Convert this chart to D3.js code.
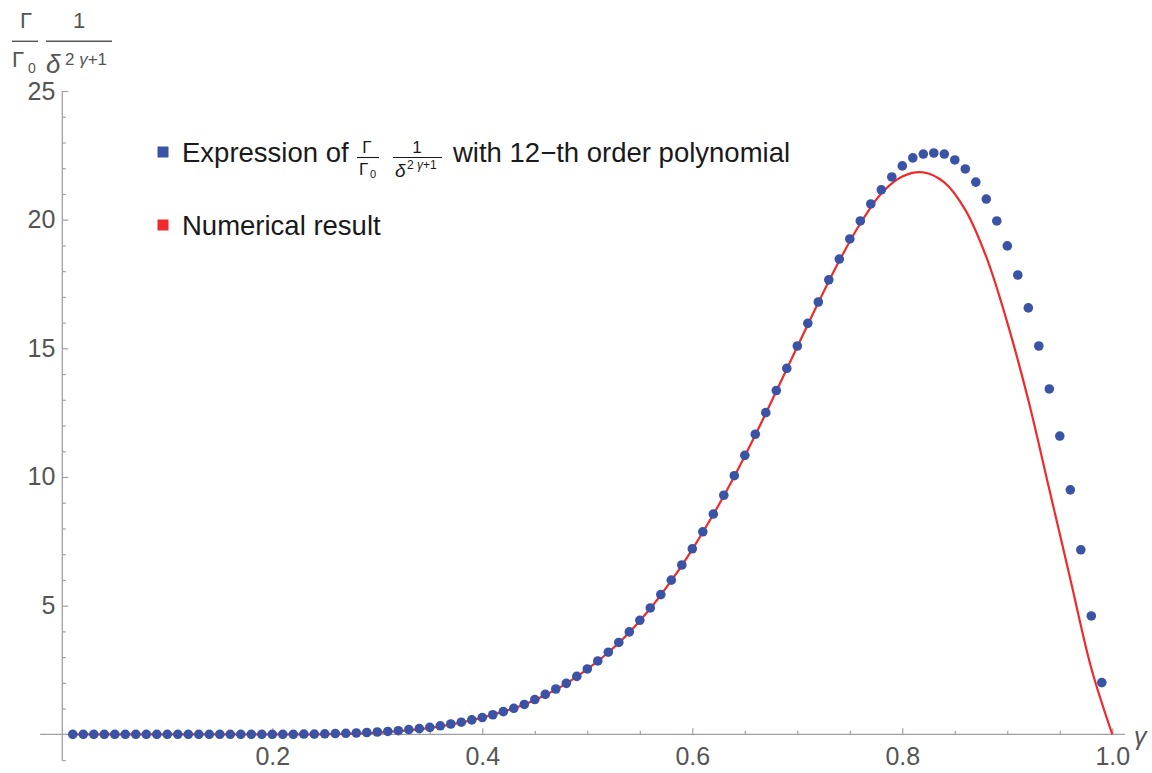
<!DOCTYPE html>
<html><head><meta charset="utf-8">
<script src="https://cdn.jsdelivr.net/npm/d3@7"></script>
<style>body{margin:0;background:#fff} svg{display:block} text{font-family:"Liberation Sans",Arial,sans-serif}</style>
</head><body><svg id="c" width="1152" height="773"></svg>
<script>
// ---- data ----
const gammaSamples = [0.01,0.02,0.03,0.04,0.05,0.06,0.07,0.08,0.09,0.10,
  0.11,0.12,0.13,0.14,0.15,0.16,0.17,0.18,0.19,0.20,
  0.21,0.22,0.23,0.24,0.25,0.26,0.27,0.28,0.29,0.30,
  0.31,0.32,0.33,0.34,0.35,0.36,0.37,0.38,0.39,0.40,
  0.41,0.42,0.43,0.44,0.45,0.46,0.47,0.48,0.49,0.50,
  0.51,0.52,0.53,0.54,0.55,0.56,0.57,0.58,0.59,0.60,
  0.61,0.62,0.63,0.64,0.65,0.66,0.67,0.68,0.69,0.70,
  0.71,0.72,0.73,0.74,0.75,0.76,0.77,0.78,0.79,0.80,
  0.81,0.82,0.83,0.84,0.85,0.86,0.87,0.88,0.89,0.90,
  0.91,0.92,0.93,0.94,0.95,0.96,0.97,0.98,0.99];
const polynomialValues = [0,0,0,0,0,0,0,0,0,0,
  0,0,0,0,0,0,0,0,0,0,
  0.00,0.00,0.01,0.01,0.02,0.03,0.04,0.05,0.07,0.09,
  0.11,0.14,0.18,0.22,0.27,0.33,0.40,0.47,0.56,0.65,
  0.76,0.88,1.01,1.16,1.35,1.55,1.76,1.98,2.25,2.54,
  2.85,3.19,3.57,3.98,4.43,4.91,5.43,5.99,6.58,7.21,
  7.87,8.56,9.29,10.05,10.84,11.66,12.50,13.36,14.22,15.09,
  15.97,16.80,17.66,18.47,19.25,19.95,20.61,21.16,21.66,22.09,
  22.40,22.55,22.59,22.55,22.32,21.97,21.46,20.80,19.95,18.98,
  17.85,16.57,15.09,13.42,11.59,9.50,7.17,4.60,2.01];
const numericalGamma = [0.01,0.05,0.10,0.15,0.20,0.24,0.26,0.28,0.30,
  0.32,0.34,0.36,0.38,0.40,0.42,0.44,0.46,0.48,0.50,
  0.52,0.54,0.56,0.58,0.60,0.62,0.64,0.66,0.68,0.70,
  0.72,0.74,0.76,0.78,0.80,0.82,0.84,0.86,0.88,0.90,
  0.92,0.94,0.96,0.98,1.00];
const numericalValues = [0,0,0,0,0,0.00,0.01,0.03,0.06,
  0.12,0.20,0.31,0.46,0.65,0.88,1.16,1.53,1.97,2.53,
  3.18,3.96,4.89,5.97,7.19,8.54,10.02,11.63,13.33,15.06,
  16.77,18.40,19.85,21.02,21.68,21.84,21.45,20.38,18.55,16.00,
  12.99,9.52,6.04,2.57,0.00];
const xMajorTicks = [0.2,0.4,0.6,0.8,1.0];
const xTickLabels = ["0.2","0.4","0.6","0.8","1.0"];
const yMajorTicks = [5,10,15,20,25];
const yTickLabels = ["5","10","15","20","25"];
const seriesColors = ["#3a53a4","#ee2a2a"];

// ---- scales ----
const svg = d3.select("#c");
const x = d3.scaleLinear().domain([0,1]).range([62.3,1112.3]);
const y = d3.scaleLinear().domain([0,25]).range([734.3,91]);
const axisGray = "#a0a0a0", labelGray = "#555";

// axis lines (crossing at origin)
svg.append("line").attr("x1",x(-0.021)).attr("x2",x(1.012)).attr("y1",y(0)).attr("y2",y(0))
  .attr("stroke",axisGray).attr("stroke-width",1.3);
svg.append("line").attr("x1",x(0)).attr("x2",x(0)).attr("y1",y(25)).attr("y2",y(-1.03))
  .attr("stroke",axisGray).attr("stroke-width",1.3);

// x ticks
const xMinor = d3.range(1,21).map(i=>i*0.05).filter(v=>!xMajorTicks.some(m=>Math.abs(m-v)<1e-6));
const gxMinor = svg.append("g").attr("transform",`translate(0,${y(0)})`)
  .call(d3.axisBottom(x).tickValues(xMinor).tickSizeInner(-3.5).tickSizeOuter(0).tickFormat(""));
const gx = svg.append("g").attr("transform",`translate(0,${y(0)})`)
  .call(d3.axisBottom(x).tickValues(xMajorTicks).tickSizeInner(-6).tickSizeOuter(0).tickPadding(13)
    .tickFormat((d,i)=>xTickLabels[i]));
// y ticks
const yMinor = d3.range(-1,26).filter(v=>v!==0 && v%5!==0);
const gyMinor = svg.append("g").attr("transform",`translate(${x(0)},0)`)
  .call(d3.axisLeft(y).tickValues(yMinor).tickSizeInner(-3.5).tickSizeOuter(0).tickFormat(""));
const gy = svg.append("g").attr("transform",`translate(${x(0)},0)`)
  .call(d3.axisLeft(y).tickValues(yMajorTicks).tickSizeInner(-6).tickSizeOuter(0).tickPadding(7)
    .tickFormat((d,i)=>yTickLabels[i]));
[gx,gy,gxMinor,gyMinor].forEach(g=>{
  g.select(".domain").remove();
  g.selectAll(".tick line").attr("stroke",axisGray).attr("stroke-width",1.2);
  g.selectAll(".tick text").attr("fill",labelGray).attr("font-size",25)
   .attr("font-family",'"Liberation Sans",Arial,sans-serif');
});

// axis label gamma
svg.append("text").attr("x",1134).attr("y",745).attr("font-size",25).attr("font-style","italic")
  .attr("fill",labelGray).text("γ");

// y axis label: Γ/Γ0 · 1/δ^(2γ+1)
const yl = svg.append("g").attr("fill",labelGray);
yl.append("text").attr("x",26).attr("y",28).attr("font-size",22).attr("text-anchor","middle").text("Γ");
yl.append("line").attr("x1",12).attr("x2",38).attr("y1",41.3).attr("y2",41.3).attr("stroke",labelGray).attr("stroke-width",1.4);
yl.append("text").attr("x",12).attr("y",67).attr("font-size",22).text("Γ");
yl.append("text").attr("x",28).attr("y",73).attr("font-size",14).text("0");
yl.append("text").attr("x",79).attr("y",28).attr("font-size",22).attr("text-anchor","middle").text("1");
yl.append("line").attr("x1",46).attr("x2",112).attr("y1",41.3).attr("y2",41.3).attr("stroke",labelGray).attr("stroke-width",1.4);
yl.append("text").attr("x",46).attr("y",73).attr("font-size",26).attr("font-style","italic").text("δ");
const sup = yl.append("text").attr("x",65).attr("y",65).attr("font-size",17);
sup.append("tspan").text("2 ");
sup.append("tspan").attr("font-style","italic").text("γ");
sup.append("tspan").text("+1");

// ---- red numerical curve ----
const redData = numericalGamma.map((g,i)=>[g,numericalValues[i]]);
svg.append("path").datum(redData)
  .attr("d",d3.line().x(d=>x(d[0])).y(d=>y(d[1])).curve(d3.curveCatmullRom.alpha(0.5)))
  .attr("fill","none").attr("stroke",seriesColors[1]).attr("stroke-width",2.2);

// ---- blue points ----
svg.append("g").selectAll("circle").data(gammaSamples.map((g,i)=>[g,polynomialValues[i]]))
  .join("circle").attr("cx",d=>x(d[0])).attr("cy",d=>y(d[1])).attr("r",4.8)
  .attr("fill",seriesColors[0]);

// ---- legend ----
const ink = "#1a1a1a", fs = 27.5;
const lg = svg.append("g").attr("fill",ink);
lg.append("rect").attr("x",157.5).attr("y",146.5).attr("width",11).attr("height",11).attr("fill",seriesColors[0]);
lg.append("rect").attr("x",157.5).attr("y",219.5).attr("width",11).attr("height",11).attr("fill",seriesColors[1]);
lg.append("text").attr("x",182).attr("y",162).attr("font-size",fs).text("Expression of");
// inline fraction Γ/Γ0
lg.append("text").attr("x",367).attr("y",153).attr("font-size",17).attr("text-anchor","middle").text("Γ");
lg.append("line").attr("x1",357).attr("x2",379).attr("y1",157.5).attr("y2",157.5).attr("stroke",ink).attr("stroke-width",1.1);
lg.append("text").attr("x",359).attr("y",175).attr("font-size",17).text("Γ");
lg.append("text").attr("x",370).attr("y",178).attr("font-size",11).text("0");
// inline fraction 1/δ^(2γ+1)
lg.append("text").attr("x",417).attr("y",153).attr("font-size",17).attr("text-anchor","middle").text("1");
lg.append("line").attr("x1",393).attr("x2",442).attr("y1",157.5).attr("y2",157.5).attr("stroke",ink).attr("stroke-width",1.1);
lg.append("text").attr("x",395).attr("y",177).attr("font-size",19).attr("font-style","italic").text("δ");
const lsup = lg.append("text").attr("x",407).attr("y",169).attr("font-size",12);
lsup.append("tspan").text("2 ");
lsup.append("tspan").attr("font-style","italic").text("γ");
lsup.append("tspan").text("+1");
lg.append("text").attr("x",453).attr("y",162).attr("font-size",fs).text("with 12\u2212th order polynomial");
lg.append("text").attr("x",182).attr("y",234.5).attr("font-size",fs).text("Numerical result");
</script></body></html>
